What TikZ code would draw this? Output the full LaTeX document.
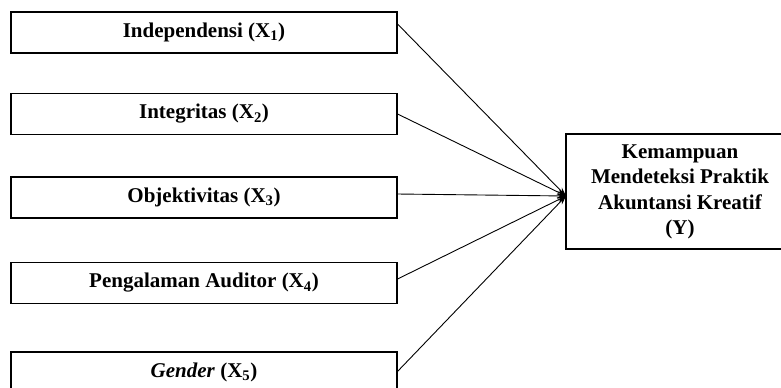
\documentclass[tikz,border=0pt]{standalone}
\usepackage{fontspec}
\setmainfont{Liberation Serif}
\usetikzlibrary{arrows.meta,calc}
\begin{document}
\begin{tikzpicture}[x=1bp,y=-1bp,
  boxline/.style={line width=1.1bp},
  varbox/.style={draw,boxline,rectangle,minimum width=386bp,minimum height=41bp,inner sep=0pt,
    font=\fontsize{21bp}{25.5bp}\selectfont\bfseries},
  yframe/.style={rectangle,minimum width=280bp,minimum height=115bp,inner sep=0pt},
  ytext/.style={align=center,inner sep=0pt,font=\fontsize{21bp}{25.5bp}\selectfont\bfseries},
  link/.style={line width=0.9bp,-{Stealth[length=9bp,width=6bp]}}]
\useasboundingbox (0,0) rectangle (781,387);
\node[varbox] (b1) at (204,32.5) {Independensi (X\textsubscript{1})};
\node[varbox] (b2) at (204,114) {Integritas (X\textsubscript{2})};
\node[varbox] (b3) at (204,197.5) {Objektivitas (X\textsubscript{3})};
\node[varbox] (b4) at (204,283) {Pengalaman Auditor (X\textsubscript{4})};
\node[font=\fontsize{21bp}{25.5bp}\selectfont\bfseries] (t5) at (204,372) {\textit{Gender} (X\textsubscript{5})};
\coordinate (b5nw) at (11,352);
\coordinate (b5ne) at (397,352);
\draw[boxline] (b5nw |- 0,390) -- (b5nw) -- (b5ne) -- (b5ne |- 0,390);
\node[yframe,anchor=west] (y) at (566,191.5) {};
\draw[boxline] (781,134) -- (566,134) -- (566,249) -- (781,249);
\node[ytext] (yt) at (680,192) {Kemampuan\\Mendeteksi Praktik\\Akuntansi Kreatif\\(Y)};
\coordinate (tip) at ([yshift=-4.5bp]y.west);
\draw[link] ([yshift=8.5bp]b1.east) -- (tip);
\draw[link] (b2.east) -- (tip);
\draw[link] ([yshift=3.5bp]b3.east) -- (tip);
\draw[link] ([yshift=4bp]b4.east) -- (tip);
\draw[link] (b5ne |- t5) -- (tip);
\end{tikzpicture}
\end{document}
